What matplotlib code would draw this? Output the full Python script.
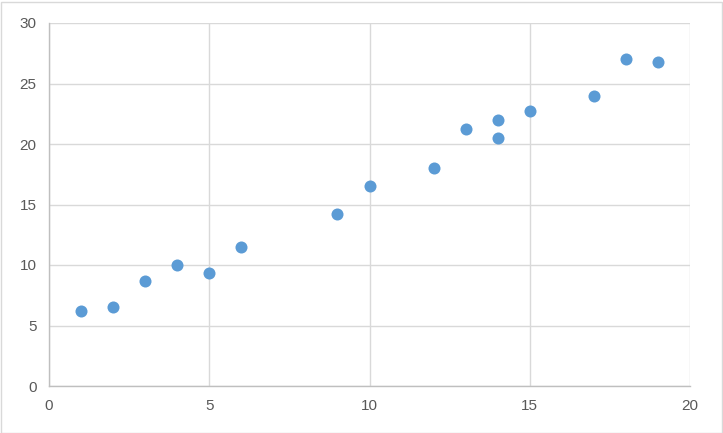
import matplotlib.pyplot as plt
from matplotlib.patches import Rectangle

x_vals = [1, 2, 3, 4, 5, 6, 9, 10, 12, 13, 14, 14, 15, 17, 18, 19]
y_vals = [6.2, 6.5, 8.7, 10.0, 9.3, 11.5, 14.2, 16.5, 18.0, 21.2, 22.0, 20.5, 22.7, 24.0, 27.0, 26.8]
x_ticks = [0, 5, 10, 15, 20]
y_ticks = [0, 5, 10, 15, 20, 25, 30]

plt.rcParams['font.family'] = ['Liberation Sans', 'DejaVu Sans']

fig = plt.figure(figsize=(7.23, 4.33), dpi=100)
ax = fig.add_axes([49 / 723, (433 - 386) / 433, (690 - 49) / 723, (386 - 23) / 433])

ax.scatter(x_vals, y_vals, s=75, color='#5B9BD5', zorder=3, linewidths=0)

ax.set_xlim(0, 20)
ax.set_ylim(0, 30)
ax.set_xticks(x_ticks)
ax.set_yticks(y_ticks)
ax.grid(True, color='#d9d9d9', linewidth=1)
ax.set_axisbelow(True)
ax.tick_params(length=0, labelsize=11, labelcolor='#595959', pad=9)

for side in ['top', 'right']:
    ax.spines[side].set_visible(False)
for side in ['left', 'bottom']:
    ax.spines[side].set_color('#bfbfbf')
    ax.spines[side].set_linewidth(1)

fig.patches.append(Rectangle((0.5 / 723, 0.5 / 433), 721 / 723, 431 / 433,
                             transform=fig.transFigure, fill=False,
                             edgecolor='#d9d9d9', linewidth=1))

fig.savefig('out.png', dpi=100)
